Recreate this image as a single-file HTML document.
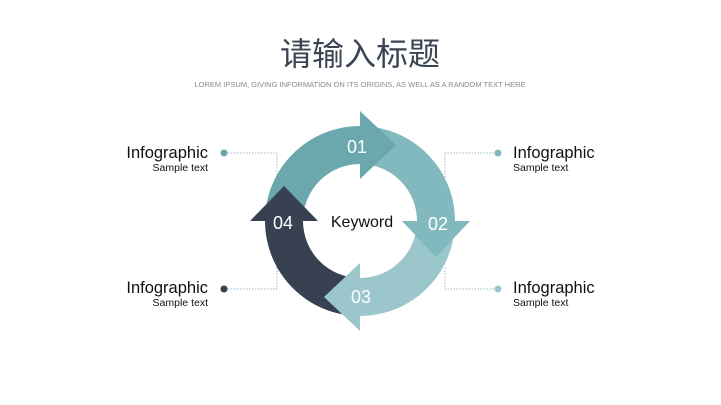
<!DOCTYPE html>
<html><head><meta charset="utf-8"><style>
html,body{margin:0;padding:0;background:#fff;width:721px;height:405px;overflow:hidden}
</style></head><body>
<svg width="721" height="405" viewBox="0 0 721 405" xmlns="http://www.w3.org/2000/svg">
<text x="360" y="65" text-anchor="middle" font-family="Liberation Sans, Noto Sans CJK SC, sans-serif" font-size="32" fill="#3b4452">请输入标题</text>
<text x="360" y="87" text-anchor="middle" font-family="Liberation Sans, sans-serif" font-size="7.5" fill="#888">LOREM IPSUM, GIVING INFORMATION ON ITS ORIGINS, AS WELL AS A RANDOM TEXT HERE</text>

<g fill="none" stroke="#9bb8c0" stroke-width="1" stroke-dasharray="1.5,1.5">
<polyline points="228,153 277,153 277,178"/>
<polyline points="228,289 277,289 277,266"/>
<polyline points="494,153 445,153 445,178"/>
<polyline points="494,289 445,289 445,266"/>
</g>
<circle cx="224" cy="153" r="3.5" fill="#6aa8ae"/>
<circle cx="224" cy="289" r="3.5" fill="#374151"/>
<circle cx="498" cy="153" r="3.5" fill="#82b9bf"/>
<circle cx="498" cy="289" r="3.5" fill="#9bc7cc"/>

<path d="M265 221 A95 95 0 0 1 360 126 L360 164 A57 57 0 0 0 303 221 Z" fill="#6aa8ae"/>
<path d="M360 126 A95 95 0 0 1 455 221 L417 221 A57 57 0 0 0 360 164 Z" fill="#82b9bf"/>
<path d="M455 221 A95 95 0 0 1 360 316 L360 278 A57 57 0 0 0 417 221 Z" fill="#9bc7cc"/>
<path d="M360 316 A95 95 0 0 1 265 221 L303 221 A57 57 0 0 0 360 278 Z" fill="#374151"/>
<polygon points="360,111 396,145 360,179" fill="#6aa8ae"/>
<polygon points="402,221 470,221 436,257" fill="#82b9bf"/>
<polygon points="360,263 360,331 324,297" fill="#9bc7cc"/>
<polygon points="250,221 318,221 284,186" fill="#374151"/>

<g font-family="Liberation Sans, sans-serif" font-size="18" fill="#fff" text-anchor="middle">
<text x="357" y="153">01</text>
<text x="438" y="230">02</text>
<text x="361" y="303">03</text>
<text x="283" y="229">04</text>
</g>
<text x="362" y="227" text-anchor="middle" font-family="Liberation Sans, sans-serif" font-size="16" fill="#111">Keyword</text>

<g font-family="Liberation Sans, sans-serif" fill="#111">
<text x="208" y="158" text-anchor="end" font-size="16.5">Infographic</text>
<text x="208" y="171" text-anchor="end" font-size="10.5">Sample text</text>
<text x="208" y="293" text-anchor="end" font-size="16.5">Infographic</text>
<text x="208" y="306" text-anchor="end" font-size="10.5">Sample text</text>
<text x="513" y="158" font-size="16.5">Infographic</text>
<text x="513" y="171" font-size="10.5">Sample text</text>
<text x="513" y="293" font-size="16.5">Infographic</text>
<text x="513" y="306" font-size="10.5">Sample text</text>
</g>
</svg>
</body></html>
